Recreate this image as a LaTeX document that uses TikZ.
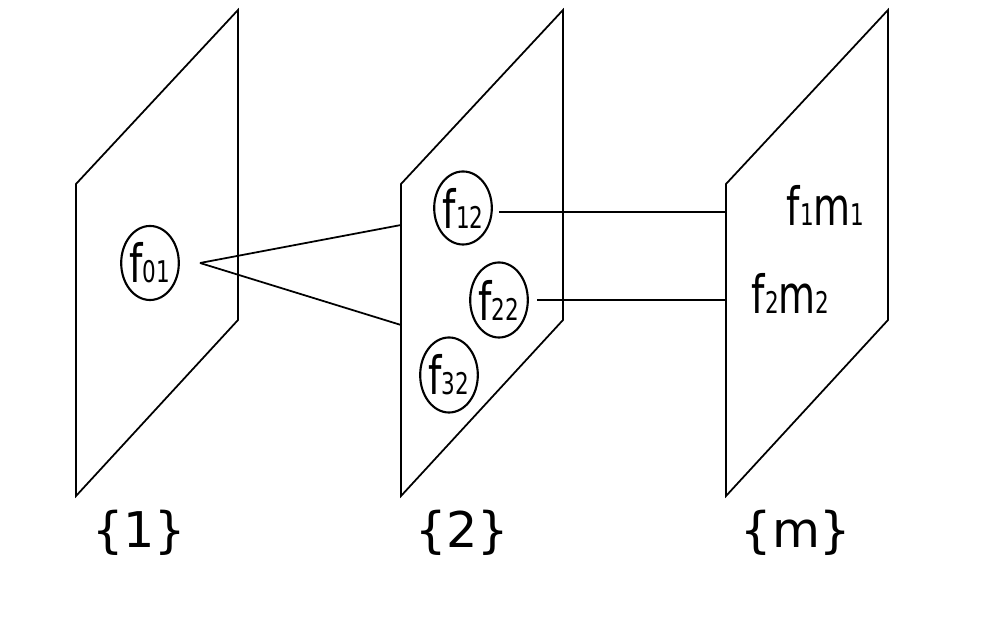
\documentclass[tikz,border=0pt]{standalone}
\usepackage{fontspec}
\setmainfont{DejaVu Sans}
\newfontfamily\narrowfont[FakeStretch=0.72]{DejaVu Sans}
\usetikzlibrary{shapes.geometric}
\newcommand{\fsub}[1]{{\narrowfont\fontsize{15}{15}\selectfont f\fontsize{8.5}{8.5}\selectfont #1}}
\newcommand{\fmsub}[2]{{\narrowfont\fontsize{15}{15}\selectfont f\fontsize{8.5}{8.5}\selectfont #1\fontsize{15}{15}\selectfont m\fontsize{8.5}{8.5}\selectfont #2}}
\begin{document}
\begin{tikzpicture}[x=0.01cm,y=-0.01cm,line width=0.5pt]
    \useasboundingbox (0,0) rectangle (1000,625);%
    \draw (76,496) -- (76,184) -- (238,10) -- (238,320) -- cycle;%
    \draw (401,496) -- (401,184) -- (563,10) -- (563,320) -- cycle;%
    \draw (726,496) -- (726,184) -- (888,10) -- (888,320) -- cycle;%

    \node[draw,ellipse,line width=0.6pt,inner sep=0pt,minimum width=0.53cm,minimum height=0.74cm] (F01) at (150,263) {\fsub{01}};%
    \node[draw,ellipse,line width=0.6pt,inner sep=0pt,minimum width=0.53cm,minimum height=0.73cm] (F12) at (463,208) {\fsub{12}};%
    \node[draw,ellipse,line width=0.6pt,inner sep=0pt,minimum width=0.53cm,minimum height=0.75cm] (F22) at (499,300) {\fsub{22}};%
    \node[draw,ellipse,line width=0.6pt,inner sep=0pt,minimum width=0.53cm,minimum height=0.75cm] (F32) at (449,375) {\fsub{32}};%

    \node[inner sep=0pt,anchor=base west] (M1) at (786,226) {\fmsub{1}{1}};%
    \node[inner sep=0pt,anchor=base west] (M2) at (751,314) {\fmsub{2}{2}};%

    \coordinate (O1) at (200,263);%
    \coordinate (E1) at (401,225);%
    \coordinate (E2) at (401,325);%
    \coordinate (R1) at (499,212);%
    \coordinate (R2) at (537,300);%
    \coordinate (P1) at (726,212);%
    \coordinate (P2) at (726,300);%

    \draw (O1) -- (E1);%
    \draw (O1) -- (E2);%
    \draw (R1) -- (P1);%
    \draw (R2) -- (P2);%

    \node[font=\fontsize{14}{14}\selectfont] (L1) at (139,533) {\{1\}};%
    \node[font=\fontsize{14}{14}\selectfont] (L2) at (462,533) {\{2\}};%
    \node[font=\fontsize{14}{14}\selectfont] (Lm) at (796,533) {\{m\}};%
  \end{tikzpicture}
\end{document}
